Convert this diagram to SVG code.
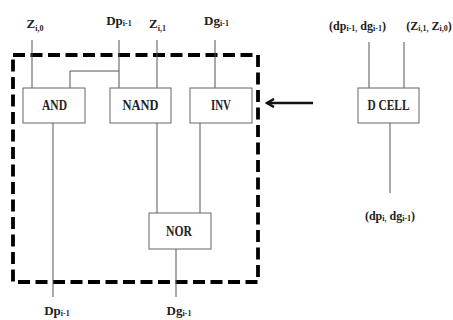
<svg xmlns="http://www.w3.org/2000/svg" width="453" height="320" viewBox="0 0 453 320">
<defs>
<style>
.box{fill:#fff;stroke:#666;stroke-width:1}
.wire{fill:none;stroke:#555;stroke-width:1}
.lbl{font-family:"Liberation Serif",serif;font-weight:bold;font-size:13px;fill:#222}
.lbl2{font-family:"Liberation Serif",serif;font-weight:bold;font-size:12px;fill:#222}
.blbl{font-family:"Liberation Serif",serif;font-weight:bold;font-size:14px;fill:#222}
.sub{font-size:8px}
</style>
<marker id="ah" markerWidth="10" markerHeight="10" refX="8" refY="5" orient="auto" markerUnits="userSpaceOnUse">
<path d="M1,1 L8,5 L1,9" fill="none" stroke="#111" stroke-width="2.5"/>
</marker>
</defs>
<rect width="453" height="320" fill="#fff"/>
<rect id="dashbox" x="13" y="55" width="245" height="227" fill="none" stroke="#000" stroke-width="3.8" stroke-dasharray="12,5.5"/>
<g id="connectors">
<path class="wire" d="M32,40 V88"/>
<path class="wire" d="M119,40 V88"/>
<path class="wire" d="M70,88 V71 H119"/>
<path class="wire" d="M157,40 V88"/>
<path class="wire" d="M215,40 V88"/>
<path class="wire" d="M157,123 V213"/>
<path class="wire" d="M200,123 V213"/>
<path class="wire" d="M53,123 V297"/>
<path class="wire" d="M176,249 V297"/>
<path class="wire" d="M369,42 V88"/>
<path class="wire" d="M404,42 V88"/>
<path class="wire" d="M390,123 V193"/>
<path d="M313,103 H267" fill="none" stroke="#111" stroke-width="2.5" marker-end="url(#ah)"/>
</g>
<g id="and"><rect class="box" x="23" y="88" width="62" height="35"/><text class="blbl" x="54.5" y="110" text-anchor="middle" textLength="25" lengthAdjust="spacingAndGlyphs">AND</text></g>
<g id="nand"><rect class="box" x="110" y="88" width="61" height="35"/><text class="blbl" x="140.5" y="110" text-anchor="middle" textLength="36" lengthAdjust="spacingAndGlyphs">NAND</text></g>
<g id="inv"><rect class="box" x="190" y="88" width="62" height="35"/><text class="blbl" x="221" y="110" text-anchor="middle" textLength="20" lengthAdjust="spacingAndGlyphs">INV</text></g>
<g id="nor"><rect class="box" x="149" y="213" width="62" height="36"/><text class="blbl" x="179" y="236" text-anchor="middle" textLength="26" lengthAdjust="spacingAndGlyphs">NOR</text></g>
<g id="dcell"><rect class="box" x="358" y="88" width="61" height="35"/><text class="blbl" x="388.5" y="110" text-anchor="middle" textLength="42" lengthAdjust="spacingAndGlyphs">D CELL</text></g>
<g id="labels">
<text class="lbl" x="35" y="28" text-anchor="middle">Z<tspan class="sub" dy="3">i,0</tspan></text>
<text class="lbl" x="119" y="25" text-anchor="middle">Dp<tspan class="sub" dy="1">i-1</tspan></text>
<text class="lbl" x="157.5" y="28" text-anchor="middle">Z<tspan class="sub" dy="3">i,1</tspan></text>
<text class="lbl" x="216.5" y="25" text-anchor="middle">Dg<tspan class="sub" dy="1">i-1</tspan></text>
<text class="lbl2" x="357.5" y="30" text-anchor="middle">(dp<tspan class="sub" dy="1">i-1,</tspan><tspan dy="-1"> dg</tspan><tspan class="sub" dy="1">i-1</tspan><tspan dy="-1">)</tspan></text>
<text class="lbl2" x="429" y="30" text-anchor="middle">(Z<tspan class="sub" dy="1">i,1,</tspan><tspan dy="-1"> Z</tspan><tspan class="sub" dy="1">i,0</tspan><tspan dy="-1">)</tspan></text>
<text class="lbl2" x="390" y="220" text-anchor="middle">(dp<tspan class="sub" dy="1">i,</tspan><tspan dy="-1"> dg</tspan><tspan class="sub" dy="1">i-1</tspan><tspan dy="-1">)</tspan></text>
<text class="lbl" x="57" y="315" text-anchor="middle">Dp<tspan class="sub" dy="1">i-1</tspan></text>
<text class="lbl" x="179" y="315" text-anchor="middle">Dg<tspan class="sub" dy="1">i-1</tspan></text>
</g>
</svg>
